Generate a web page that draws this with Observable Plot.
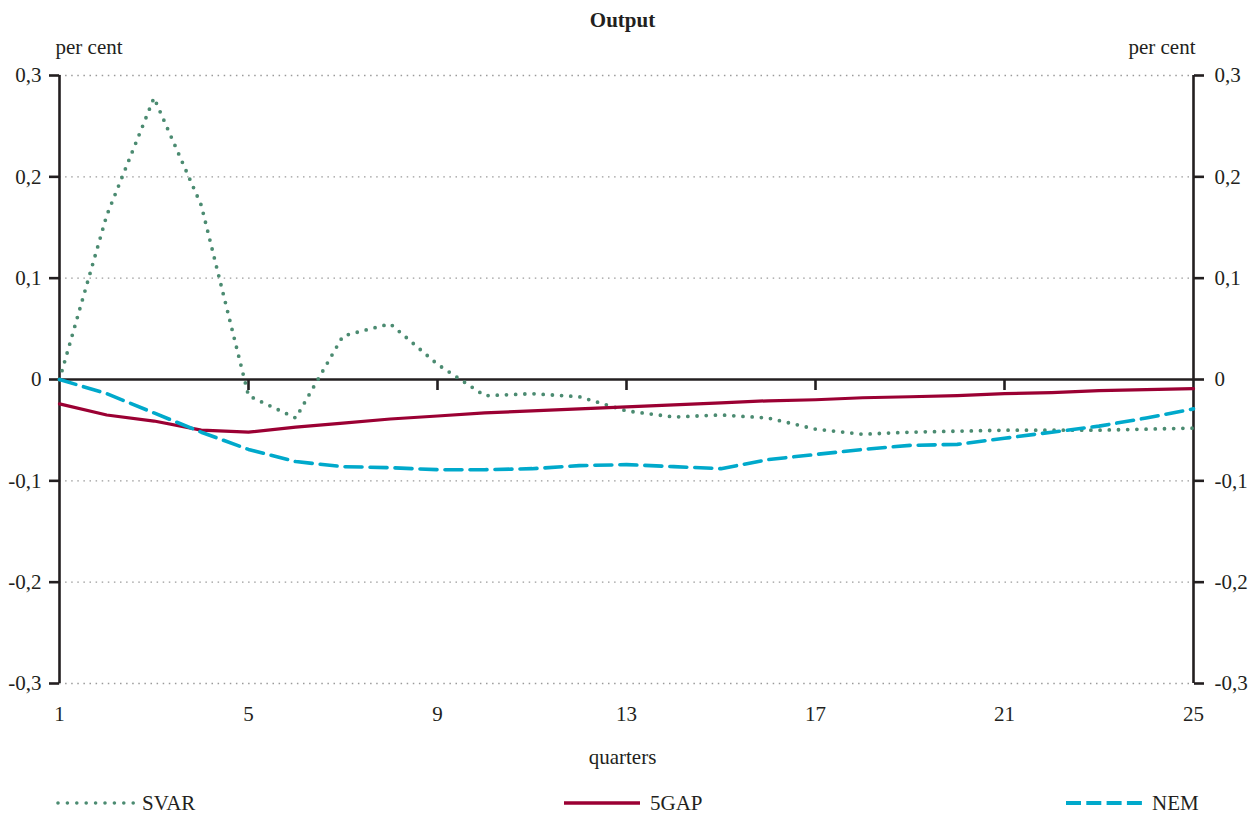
<!DOCTYPE html>
<html>
<head>
<meta charset="utf-8">
<script src="https://cdn.jsdelivr.net/npm/d3@7"></script>
<script src="https://cdn.jsdelivr.net/npm/@observablehq/plot@0.6"></script>
<style>
  html, body { margin: 0; padding: 0; background: #fff; }
  #wrap { position: relative; width: 1250px; height: 814px; font-family: 'Liberation Serif', 'DejaVu Serif', serif; color: #231f20; }
  #wrap svg text { font-family: 'Liberation Serif', 'DejaVu Serif', serif; }
  .leg { position: absolute; top: 790px; height: 26px; display: flex; align-items: center; font-size: 21px; }
  .leg svg { margin-right: 6px; }
</style>
</head>
<body>
<div id="wrap"></div>
<script>
const quarters = [1,2,3,4,5,6,7,8,9,10,11,12,13,14,15,16,17,18,19,20,21,22,23,24,25];
const svar = [0, 0.162, 0.278, 0.172, -0.016, -0.038, 0.043, 0.055, 0.015, -0.016, -0.014, -0.017, -0.031, -0.037, -0.035, -0.038, -0.049, -0.054, -0.052, -0.051, -0.050, -0.050, -0.050, -0.049, -0.048];
const gap5 = [-0.024, -0.035, -0.041, -0.050, -0.052, -0.047, -0.043, -0.039, -0.036, -0.033, -0.031, -0.029, -0.027, -0.025, -0.023, -0.021, -0.020, -0.018, -0.017, -0.016, -0.014, -0.013, -0.011, -0.010, -0.009];
const nem = [0, -0.014, -0.033, -0.052, -0.069, -0.081, -0.086, -0.087, -0.089, -0.089, -0.088, -0.085, -0.084, -0.086, -0.088, -0.079, -0.074, -0.069, -0.065, -0.064, -0.058, -0.052, -0.046, -0.038, -0.029];
const xTicks = [1, 5, 9, 13, 17, 21, 25];
const yTicks = [-0.3, -0.2, -0.1, 0, 0.1, 0.2, 0.3];
const seriesNames = ["SVAR", "5GAP", "NEM"];
const colors = {SVAR: "#4b8b71", "5GAP": "#9b0033", NEM: "#00a9cb"};

const rows = quarters.map((q, i) => ({q, svar: svar[i], gap: gap5[i], nem: nem[i]}));
const fmt = d => d === 0 ? "0" : d.toFixed(1).replace(".", ",");
const ink = "#231f20";

const chart = Plot.plot({
  width: 1250,
  height: 775,
  marginLeft: 59,
  marginRight: 57,
  marginTop: 75,
  marginBottom: 92,
  x: {domain: d3.extent(quarters)},
  y: {domain: d3.extent(yTicks)},
  style: {fontFamily: "'Liberation Serif', 'DejaVu Serif', serif", fontSize: "21px", color: ink, background: "#fff"},
  marks: [
    Plot.ruleY(yTicks.filter(d => d !== 0), {stroke: "#9a9a9a", strokeWidth: 1.3, strokeDasharray: "1.5,4.6"}),
    Plot.ruleY([0], {stroke: ink, strokeWidth: 2.6}),
    Plot.ruleX(d3.extent(quarters), {y1: d3.min(yTicks), y2: d3.max(yTicks), stroke: ink, strokeWidth: 2.6}),
    Plot.ruleX(xTicks.slice(1, -1), {y1: 0, y2: 0, insetBottom: -11, stroke: ink, strokeWidth: 2.6}),
    Plot.axisY({anchor: "left", ticks: yTicks, tickSize: 10, tickPadding: 8, strokeWidth: 2.6, stroke: ink, tickFormat: fmt, label: null}),
    Plot.axisY({anchor: "right", ticks: yTicks, tickSize: 10, tickPadding: 11, strokeWidth: 2.6, stroke: ink, tickFormat: fmt, label: null}),
    Plot.axisX({anchor: "bottom", ticks: xTicks, tickSize: 0, tickPadding: 23, tickFormat: d => String(d), label: null}),
    Plot.line(rows, {x: "q", y: "svar", stroke: colors.SVAR, strokeWidth: 3.8, strokeDasharray: "0,9.2", strokeLinecap: "round"}),
    Plot.line(rows, {x: "q", y: "gap", stroke: colors["5GAP"], strokeWidth: 3.2}),
    Plot.line(rows, {x: "q", y: "nem", stroke: colors.NEM, strokeWidth: 3.6, strokeDasharray: "17,8"}),
    Plot.text(["Output"], {frameAnchor: "top", dy: -55, fontWeight: "bold", fontSize: 21, lineAnchor: "middle", dx: -4}),
    Plot.text(["per cent"], {frameAnchor: "top-left", textAnchor: "start", dx: -4, dy: -28, fontSize: 21, lineAnchor: "middle"}),
    Plot.text(["per cent"], {frameAnchor: "top-right", textAnchor: "end", dx: 2, dy: -28, fontSize: 21, lineAnchor: "middle"}),
    Plot.text(["quarters"], {frameAnchor: "bottom", dy: 74, fontSize: 21, lineAnchor: "middle", dx: -4})
  ]
});

const wrap = document.getElementById("wrap");
wrap.appendChild(chart);

const legendPos = {SVAR: 56, "5GAP": 564, NEM: 1066};
const swatch = {
  SVAR: `<line x1="2" y1="13" x2="78" y2="13" stroke="${colors.SVAR}" stroke-width="3.6" stroke-dasharray="0,9.4" stroke-linecap="round"/>`,
  "5GAP": `<line x1="0" y1="13" x2="76" y2="13" stroke="${colors["5GAP"]}" stroke-width="3.4"/>`,
  NEM: `<line x1="0" y1="13" x2="76" y2="13" stroke="${colors.NEM}" stroke-width="3.8" stroke-dasharray="15,5.3"/>`
};
for (const name of seriesNames) {
  const d = document.createElement("div");
  d.className = "leg";
  d.style.left = legendPos[name] + "px";
  d.innerHTML = `<svg width="80" height="26">${swatch[name]}</svg><span>${name}</span>`;
  wrap.appendChild(d);
}
</script>
</body>
</html>
